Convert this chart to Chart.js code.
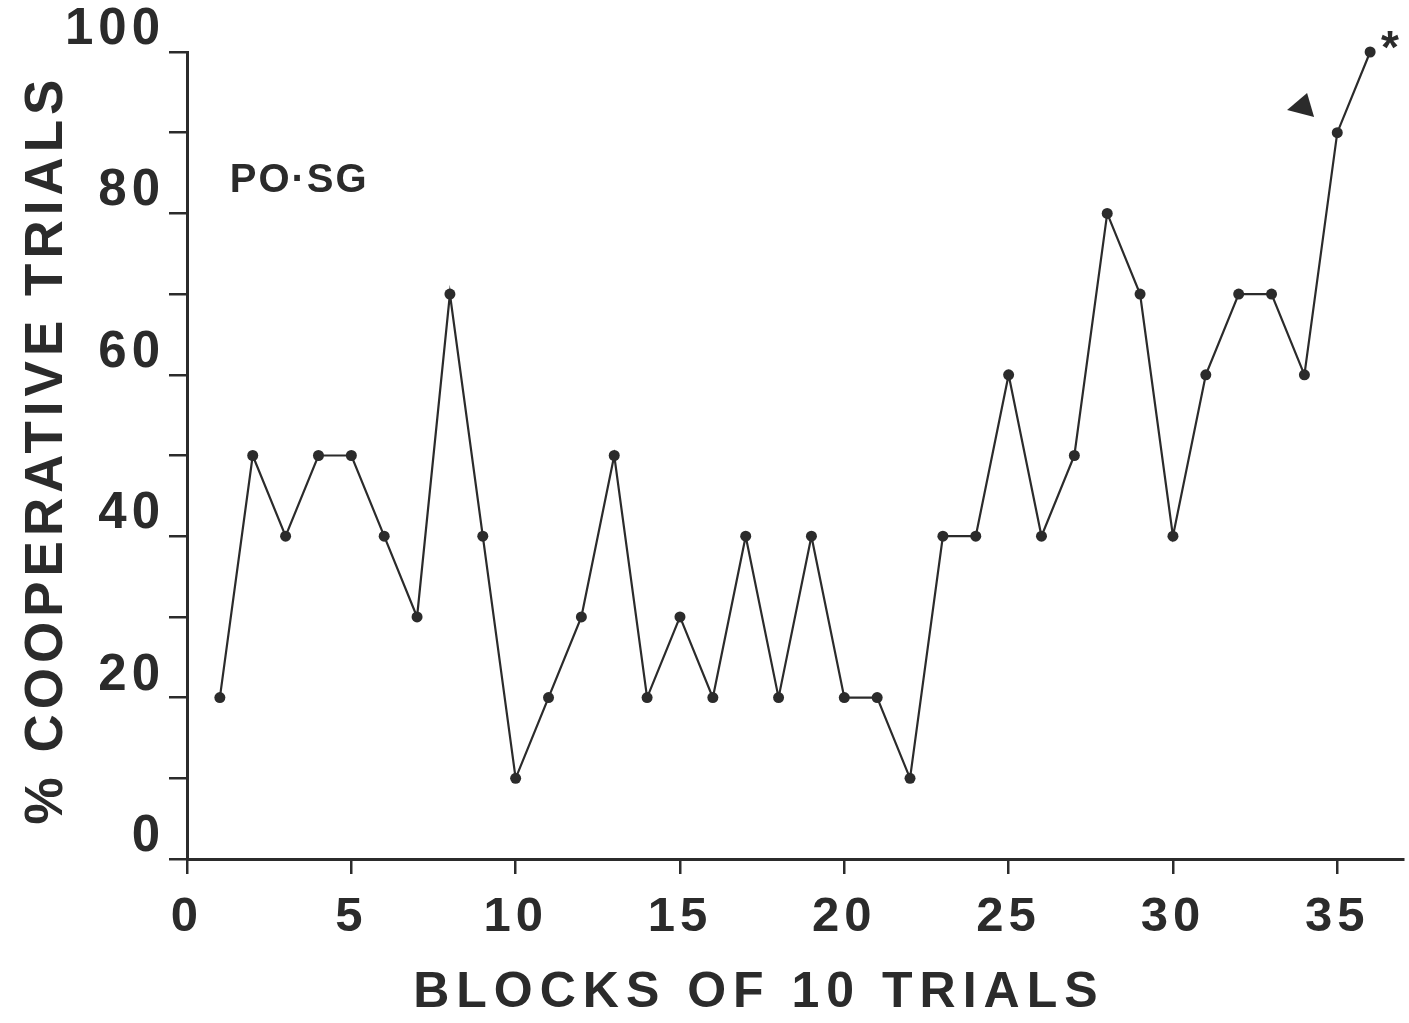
<!DOCTYPE html>
<html>
<head>
<meta charset="utf-8">
<title>PO·SG cooperative trials</title>
<script src="https://cdn.jsdelivr.net/npm/chart.js@4.4.1/dist/chart.umd.min.js"></script>
<style>
  html, body { margin: 0; padding: 0; background: #fff; }
  #wrap { width: 1409px; height: 1023px; }
</style>
</head>
<body>
<div id="wrap"><canvas id="myChart" width="1409" height="1023"></canvas></div>
<script>
// data
const blocks = [1, 2, 3, 4, 5, 6, 7, 8, 9, 10, 11, 12, 13, 14, 15, 16, 17, 18,
  19, 20, 21, 22, 23, 24, 25, 26, 27, 28, 29, 30, 31, 32, 33, 34, 35, 36];
const coopPct = [20, 50, 40, 50, 50, 40, 30, 70, 40, 10, 20, 30, 50, 20, 30, 20, 40, 20,
  40, 20, 20, 10, 40, 40, 60, 40, 50, 80, 70, 40, 60, 70, 70, 60, 90, 100];

const xTickValues = [0, 5, 10, 15, 20, 25, 30, 35];
const yTickLabels = [0, 20, 40, 60, 80, 100];

const groupLabel = "PO·SG";
const xTitle = "BLOCKS OF 10 TRIALS";
const yTitle = "% COOPERATIVE TRIALS";

const ink = "#2b2b2b";
const fontFamily = "'Liberation Sans', Arial, Helvetica, sans-serif";

document.addEventListener("DOMContentLoaded", function () {
  const canvas = document.getElementById("myChart");
  if (!canvas) return;
  const ctx = canvas.getContext("2d");

  // titles, group label and the little marks near the end of the curve
  const paperMarks = {
    id: "paperMarks",
    beforeDraw(chart) {
      const c = chart.ctx;
      c.save();
      c.fillStyle = "#fff";
      c.fillRect(0, 0, chart.width, chart.height);
      c.restore();
      c.letterSpacing = "5px";
    },
    afterDraw(chart) {
      const c = chart.ctx;
      const xs = chart.scales.x;
      const ys = chart.scales.y;
      const area = chart.chartArea;
      c.save();
      c.fillStyle = ink;

      // x axis title
      c.font = "bold 50px " + fontFamily;
      c.letterSpacing = "7px";
      c.textAlign = "center";
      c.textBaseline = "middle";
      c.fillText(xTitle, xs.getPixelForValue(17.4), area.bottom + 134);

      // y axis title
      c.save();
      c.font = "bold 53px " + fontFamily;
      c.letterSpacing = "5px";
      c.translate(area.left - 140, (area.top + area.bottom) / 2 - 6);
      c.rotate(-Math.PI / 2);
      c.fillText(yTitle, 0, 0);
      c.restore();

      // group label
      c.font = "bold 40px " + fontFamily;
      c.letterSpacing = "2px";
      c.textAlign = "left";
      c.fillText(groupLabel, xs.getPixelForValue(1.3), ys.getPixelForValue(84));

      // filled triangle marker
      const tx = xs.getPixelForValue(33.96);
      const ty = ys.getPixelForValue(93.2);
      c.beginPath();
      c.moveTo(tx - 16, ty + 3);
      c.lineTo(tx + 4, ty - 14);
      c.lineTo(tx + 11, ty + 10);
      c.closePath();
      c.fill();

      // asterisk
      c.font = "bold 46px " + fontFamily;
      c.letterSpacing = "0px";
      c.textAlign = "center";
      c.textBaseline = "alphabetic";
      c.fillText("*", xs.getPixelForValue(36.6), ys.getPixelForValue(101.5) + 23);

      c.restore();
    },
  };

  new Chart(ctx, {
    type: "line",
    data: {
      datasets: [{
        label: groupLabel,
        data: blocks.map((b, i) => ({ x: b, y: coopPct[i] })),
        borderColor: ink,
        borderWidth: 2.2,
        backgroundColor: ink,
        pointRadius: 5.5,
        pointBorderWidth: 0,
        pointBackgroundColor: ink,
        tension: 0,
        clip: false,
      }],
    },
    options: {
      responsive: false,
      animation: false,
      devicePixelRatio: 1,
      layout: { padding: { left: 0, right: 6, top: 52, bottom: 0 } },
      plugins: {
        legend: { display: false },
        tooltip: { enabled: false },
      },
      scales: {
        x: {
          type: "linear",
          min: 0,
          max: 37,
          afterBuildTicks(scale) {
            scale.ticks = xTickValues.map((v) => ({ value: v }));
          },
          afterFit(scale) {
            scale.height = 164;
          },
          border: { display: true, color: ink, width: 3 },
          grid: {
            drawOnChartArea: false,
            drawTicks: true,
            tickLength: 15,
            color: ink,
            lineWidth: 2.5,
          },
          ticks: {
            color: ink,
            padding: 14,
            maxRotation: 0,
            font: { family: fontFamily, size: 49, weight: "bold" },
          },
          title: { display: false, text: xTitle },
        },
        y: {
          type: "linear",
          min: 0,
          max: 100,
          afterFit(scale) {
            scale.width = 187;
          },
          border: { display: true, color: ink, width: 3 },
          grid: {
            drawOnChartArea: false,
            drawTicks: true,
            tickLength: 18,
            color: ink,
            lineWidth: 2.5,
          },
          ticks: {
            stepSize: 10,
            color: ink,
            padding: 4,
            labelOffset: -22,
            font: { family: fontFamily, size: 51, weight: "bold" },
            callback: (v) => (yTickLabels.includes(v) ? String(v) : ""),
          },
          title: { display: false, text: yTitle },
        },
      },
    },
    plugins: [paperMarks],
  });
});
</script>
</body>
</html>
